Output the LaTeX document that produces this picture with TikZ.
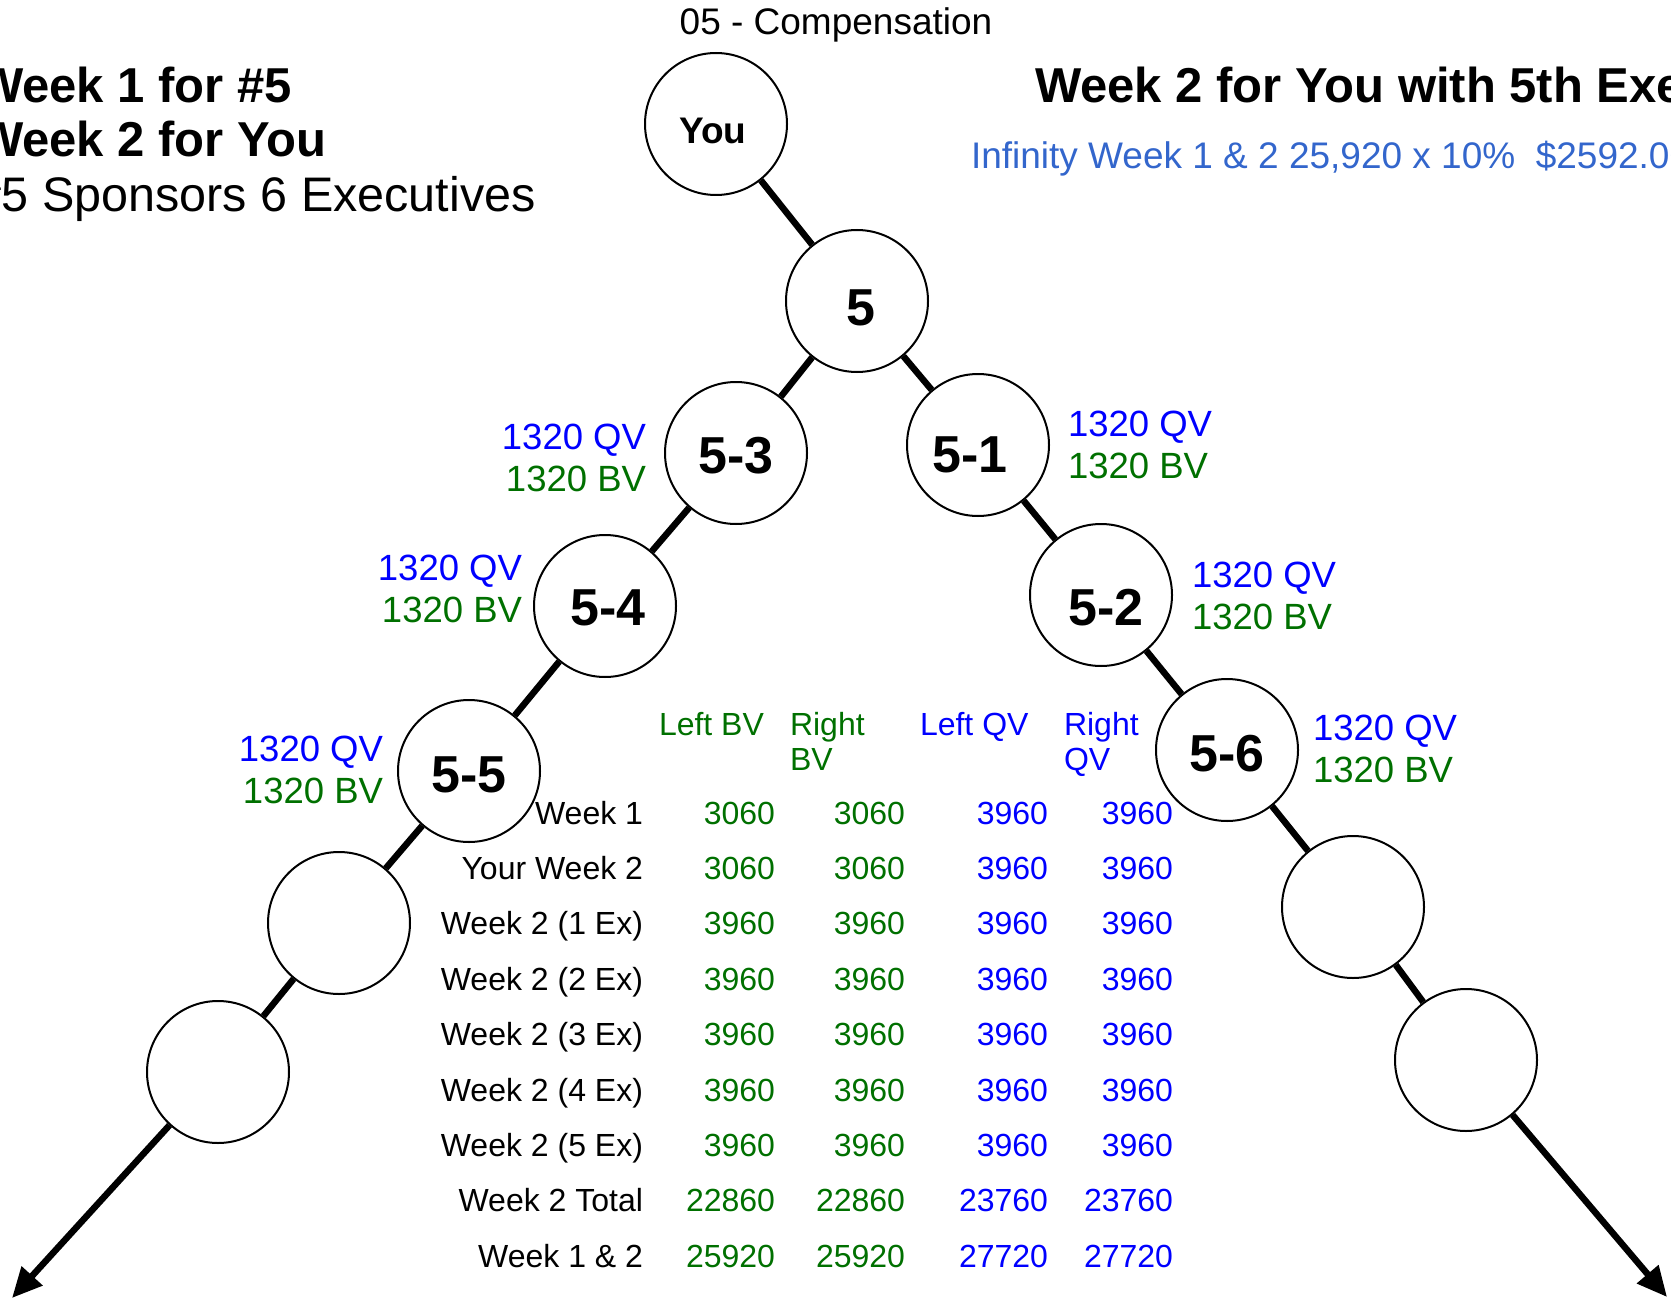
\documentclass[tikz,border=0pt]{standalone}
\usepackage{fontspec}
\setmainfont{Liberation Sans}
\usetikzlibrary{arrows.meta}
\definecolor{bvgreen}{RGB}{0,112,0}
\definecolor{qvblue}{RGB}{0,0,255}
\definecolor{infblue}{RGB}{51,102,204}
\begin{document}
\begin{tikzpicture}[x=1pt,y=-1pt,
  member/.style={circle,draw,line width=2pt,minimum size=142pt,inner sep=0pt,fill=white},
  mtext/.style={inner sep=0pt,font=\fontsize{52}{60}\selectfont\bfseries},
  link/.style={line width=6.5pt},
  endarrow/.style={line width=6.5pt,-{Triangle[length=30pt,width=27pt]}},
  lbl/.style={inner sep=0pt,outer sep=0pt},
  qv/.style={lbl,text=qvblue,font=\fontsize{36.5}{42}\selectfont},
  bv/.style={lbl,text=bvgreen,font=\fontsize{36.5}{42}\selectfont},
  title/.style={lbl,anchor=base west,font=\fontsize{49}{54}\selectfont\bfseries},
  subtitle/.style={lbl,anchor=base west,font=\fontsize{48.5}{54}\selectfont},
  tab/.style={lbl,anchor=base east,font=\fontsize{32}{38}\selectfont},
  tabhead/.style={lbl,anchor=base west,font=\fontsize{32}{38}\selectfont},
]
\useasboundingbox (0,0) rectangle (1671,1300);
\clip (0,0) rectangle (1671,1300);

% titles
\node[lbl,anchor=base,font=\fontsize{37}{42}\selectfont] (comp) at (836,35) {05 - Compensation};
\node[title] (t1) at (-23,103) {Week 1 for \#5};
\node[title] (t2) at (-23,157) {Week 2 for You};
\node[subtitle] (t3) at (-25,212) {\#5 Sponsors 6 Executives};
\node[title] (t4) at (1035,103) {Week 2 for You with 5th Executive};
\node[lbl,anchor=base west,text=infblue,font=\fontsize{37}{42}\selectfont] (inf) at (971,169)
  {Infinity Week 1 \& 2 25,920 x 10\%~ \$2592.00};

% members
\node[member,label={[mtext,name=youT,font=\fontsize{37}{42}\selectfont\bfseries,xshift=-3pt,yshift=-6.5pt]center:You}] (you) at (716,124) {};
\node[member,label={[mtext,name=n5T,xshift=4pt,yshift=-6.5pt]center:5}] (n5) at (857,301) {};
\node[member,label={[mtext,name=n53T,yshift=-3pt]center:5-3}] (n53) at (736,453) {};
\node[member,label={[mtext,name=n51T,xshift=-8pt,yshift=-10pt]center:5-1}] (n51) at (978,445) {};
\node[member,label={[mtext,name=n54T,xshift=3pt,yshift=-2pt]center:5-4}] (n54) at (605,606) {};
\node[member,label={[mtext,name=n52T,xshift=5pt,yshift=-13pt]center:5-2}] (n52) at (1101,595) {};
\node[member,label={[mtext,name=n55T,yshift=-4pt]center:5-5}] (n55) at (469,771) {};
\node[member,label={[mtext,name=n56T,yshift=-4pt]center:5-6}] (n56) at (1227,750) {};
\node[member] (e1) at (339,923) {};
\node[member] (e2) at (218,1072) {};
\node[member] (f1) at (1353,907) {};
\node[member] (f2) at (1466,1060) {};
\coordinate (ltip) at (12,1298);
\coordinate (rtip) at (1667,1297);

% connectors
\draw[link] (you) -- (n5);
\draw[link] (n5) -- (n53);
\draw[link] (n53) -- (n54);
\draw[link] (n54) -- (n55);
\draw[link] (n55) -- (e1);
\draw[link] (e1) -- (e2);
\draw[endarrow] (e2) -- (ltip);
\draw[link] (n5) -- (n51);
\draw[link] (n51) -- (n52);
\draw[link] (n52) -- (n56);
\draw[link] (n56) -- (f1);
\draw[link] (f1) -- (f2);
\draw[endarrow] (f2) -- (rtip);

% QV / BV labels
\node[qv,anchor=base east] (q53) at (646,449) {1320 QV};
\node[bv,anchor=base east] (b53) at (646,491) {1320 BV};
\node[qv,anchor=base east] (q54) at (522,580) {1320 QV};
\node[bv,anchor=base east] (b54) at (522,622) {1320 BV};
\node[qv,anchor=base east] (q55) at (383,761) {1320 QV};
\node[bv,anchor=base east] (b55) at (383,803) {1320 BV};
\node[qv,anchor=base west] (q51) at (1068,436) {1320 QV};
\node[bv,anchor=base west] (b51) at (1068,478) {1320 BV};
\node[qv,anchor=base west] (q52) at (1192,587) {1320 QV};
\node[bv,anchor=base west] (b52) at (1192,629) {1320 BV};
\node[qv,anchor=base west] (q56) at (1313,740) {1320 QV};
\node[bv,anchor=base west] (b56) at (1313,782) {1320 BV};

% table header
\node[tabhead,text=bvgreen] (h1) at (659,735) {Left BV};
\node[tabhead,text=bvgreen] (h2a) at (790,735) {Right};
\node[tabhead,text=bvgreen] (h2b) at (790,770) {BV};
\node[tabhead,text=qvblue] (h3) at (920,735) {Left QV};
\node[tabhead,text=qvblue] (h4a) at (1064,735) {Right};
\node[tabhead,text=qvblue] (h4b) at (1064,770) {QV};

% table rows
\foreach \lab/\a/\b/\c/\d [count=\i from 0] in {
  Week 1/3060/3060/3960/3960,
  Your Week 2/3060/3060/3960/3960,
  Week 2 (1 Ex)/3960/3960/3960/3960,
  Week 2 (2 Ex)/3960/3960/3960/3960,
  Week 2 (3 Ex)/3960/3960/3960/3960,
  Week 2 (4 Ex)/3960/3960/3960/3960,
  Week 2 (5 Ex)/3960/3960/3960/3960,
  Week 2 Total/22860/22860/23760/23760,
  Week 1 \& 2/25920/25920/27720/27720}{
  \pgfmathsetmacro{\yy}{824+55.4*\i}
  \node[tab] (row\i) at (643,\yy) {\lab};
  \node[tab,text=bvgreen] (lbv\i) at (775,\yy) {\a};
  \node[tab,text=bvgreen] (rbv\i) at (905,\yy) {\b};
  \node[tab,text=qvblue] (lqv\i) at (1048,\yy) {\c};
  \node[tab,text=qvblue] (rqv\i) at (1173,\yy) {\d};
}
\end{tikzpicture}
\end{document}
